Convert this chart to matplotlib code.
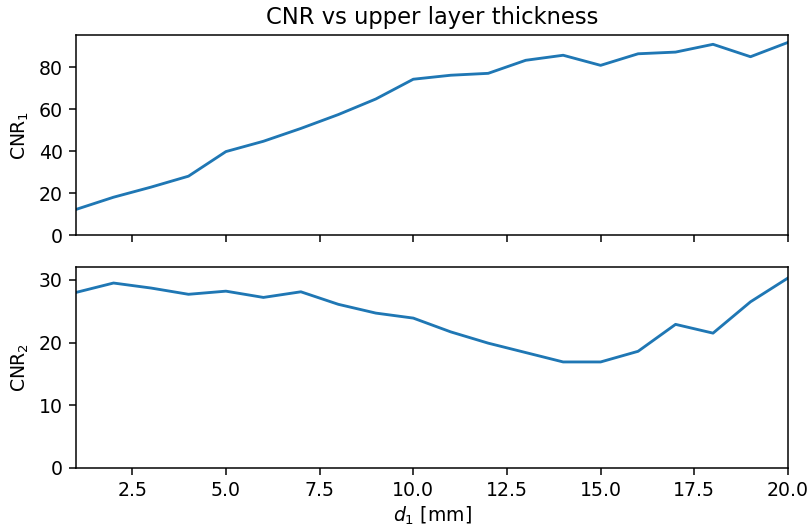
import numpy as np
import matplotlib
matplotlib.use("Agg")
import matplotlib.pyplot as plt

# upper layer thickness d1 [mm]
d1 = np.arange(1, 21)

# contrast-to-noise ratios per thickness
cnr1 = [12.3, 18.1, 22.9, 28.1, 39.8, 44.7, 50.8, 57.4, 64.8, 74.2,
        76.1, 77.0, 83.2, 85.6, 80.8, 86.3, 87.1, 90.8, 84.9, 91.7]
cnr2 = [28.0, 29.5, 28.7, 27.7, 28.2, 27.2, 28.1, 26.1, 24.7, 23.9,
        21.7, 19.9, 18.4, 16.9, 16.9, 18.6, 22.9, 21.5, 26.5, 30.3]

DPI = 136
fig, (ax1, ax2) = plt.subplots(2, 1, sharex=True, figsize=(809 / DPI, 528 / DPI), dpi=DPI)
fig.subplots_adjust(left=0.094, right=0.974, top=0.934, bottom=0.114, hspace=0.16)

ax1.plot(d1, cnr1)
ax1.set_ylim(0, 95.3)
ax1.set_ylabel("CNR$_1$")
ax1.set_title("CNR vs upper layer thickness")

ax2.plot(d1, cnr2)
ax2.set_ylim(0, 32)
ax2.set_yticks([0, 10, 20, 30])
ax2.set_ylabel("CNR$_2$")
ax2.set_xlabel("$d_1$ [mm]", labelpad=2.5)
ax2.set_xlim(1, 20)

fig.savefig("out.png", dpi=DPI)
